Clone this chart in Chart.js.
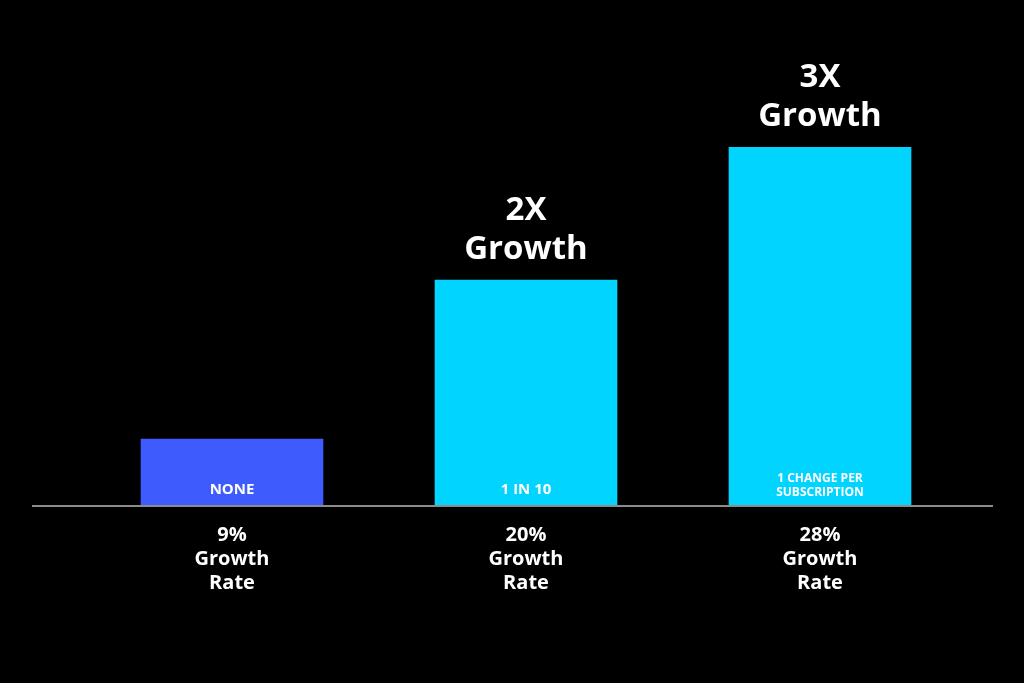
<!DOCTYPE html>
<html>
<head>
<meta charset="utf-8">
<script src="https://cdn.jsdelivr.net/npm/chart.js@4/dist/chart.umd.min.js"></script>
<style>
  html, body { margin: 0; padding: 0; background: #000; }
  canvas { display: block; }
</style>
</head>
<body>
<canvas id="c" width="1024" height="683"></canvas>
<script>
// ---- data ----
const rateLabels = ['9%', '20%', '28%'];
const categories = [
  [rateLabels[0], 'Growth', 'Rate'],
  [rateLabels[1], 'Growth', 'Rate'],
  [rateLabels[2], 'Growth', 'Rate']
];
const barValues = [18.4, 62.8, 100];          // relative bar height (tallest = 100)
const insideLabels = [['NONE'], ['1 IN 10'], ['1 CHANGE PER', 'SUBSCRIPTION']];
const topLabels = [[], ['2X', 'Growth'], ['3X', 'Growth']];
const barColors = ['#3e5cfe', '#00d4ff', '#00d4ff'];

const FONT = '"Open Sans", "Noto Sans", sans-serif';

const textPlugin = {
  id: 'textPlugin',
  afterDatasetsDraw(chart) {
    const ctx = chart.ctx;
    const meta = chart.getDatasetMeta(0);
    const yZero = chart.scales.y.getPixelForValue(0);
    // baseline rule
    ctx.save();
    ctx.strokeStyle = '#8c8c8c';
    ctx.lineWidth = 2;
    ctx.beginPath();
    ctx.moveTo(32, yZero + 1);
    ctx.lineTo(993, yZero + 1);
    ctx.stroke();

    ctx.fillStyle = '#ffffff';
    ctx.textAlign = 'center';
    ctx.textBaseline = 'alphabetic';
    meta.data.forEach((bar, i) => {
      // labels inside bar, near the bottom
      const inner = insideLabels[i];
      const multi = inner.length > 1;
      ctx.font = 'bold ' + (multi ? 12 : 15) + 'px ' + FONT;
      const lh = 14.5;
      const lastBase = yZero - (multi ? 9 : 11);
      inner.forEach((t, k) => {
        ctx.fillText(t, bar.x, lastBase - (inner.length - 1 - k) * lh);
      });
      // labels above bar
      const top = topLabels[i];
      ctx.font = 'bold 33px ' + FONT;
      top.forEach((t, k) => {
        ctx.fillText(t, bar.x, bar.y - 21 - (top.length - 1 - k) * 39);
      });
    });
    ctx.restore();
  }
};

new Chart(document.getElementById('c'), {
  type: 'bar',
  data: {
    labels: categories,
    datasets: [{
      data: barValues,
      backgroundColor: barColors,
      borderWidth: 0,
      barThickness: 182
    }]
  },
  options: {
    responsive: false,
    animation: false,
    layout: { padding: { left: 85, right: 57, top: 147, bottom: 0 } },
    plugins: { legend: { display: false }, tooltip: { enabled: false } },
    scales: {
      x: {
        grid: { display: false, drawTicks: false },
        border: { display: false },
        ticks: {
          color: '#ffffff',
          padding: 18,
          font: { family: FONT, size: 20, weight: 'bold', lineHeight: 1.2 }
        },
        afterFit(scale) { scale.height = 178; }
      },
      y: {
        display: false,
        min: 0,
        max: 100
      }
    }
  },
  plugins: [textPlugin]
});
</script>
</body>
</html>
